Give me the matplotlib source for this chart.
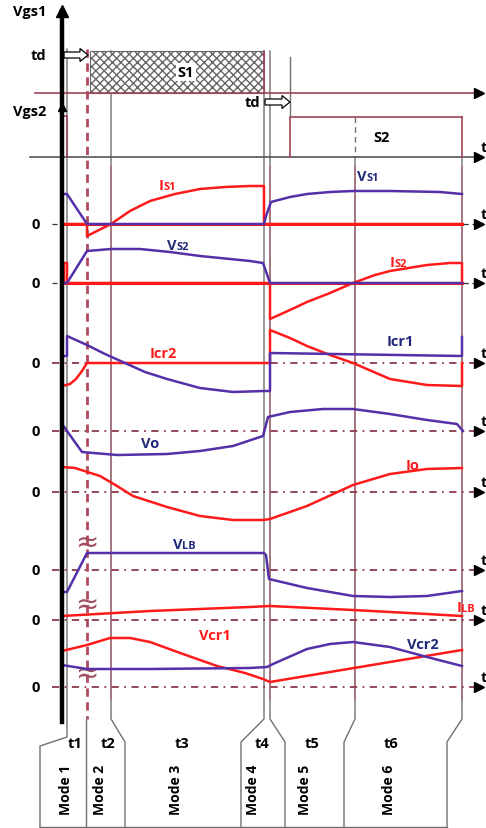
import matplotlib.pyplot as plt
from matplotlib.patches import Rectangle, FancyArrow

plt.rcParams['font.family'] = ['Open Sans', 'DejaVu Sans']

# event positions along the time axis (pixels)
t_axis = 62
t_ev = [67, 87, 111, 264, 270, 290, 355, 462]

# zero levels of each trace (pixels from top)
zeros = [225, 284, 364, 432, 493, 571, 621, 688]

# waveforms: x positions and values above their zero line (pixels)
vs1_x = [62, 67, 87, 264, 266, 271, 290, 307, 330, 353, 390, 440, 462]
vs1_v = [30, 30, 0, 0, 8, 22, 27, 30, 32, 33, 33, 32, 30]
is1_x = [62, 87, 87, 111, 130, 150, 175, 200, 225, 250, 264, 264, 462]
is1_v = [0, 0, -12, 0, 13, 23, 30, 35, 37, 38, 38, 0, 0]

vs2_x = [62, 67, 87, 111, 140, 170, 200, 230, 250, 263, 270, 462]
vs2_v = [0, 0, 32, 34, 34, 31, 27, 24, 22, 20, 0, 0]
is2_x = [62, 64, 64, 67, 67, 270, 270, 290, 307, 330, 353, 375, 390, 427, 450, 462, 462]
is2_v = [0, 0, 20, 20, 0, 0, -36, -27, -19, -10, 0, 8, 12, 18, 20, 20, 0]

icr1_x = [62, 67, 67, 87, 105, 125, 145, 167, 200, 233, 264, 270, 270, 462, 462]
icr1_v = [7, 7, 27, 18, 9, 0, -9, -16, -25, -29, -28, -28, 10, 7, 26]
icr2_x = [62, 70, 76, 82, 87, 270, 270, 290, 307, 330, 353, 390, 427, 462, 462]
icr2_v = [-23, -21, -16, -8, 0, 0, 33, 25, 17, 8, 0, -16, -22, -23, 0]

vo_x = [62, 82, 117, 167, 200, 233, 263, 268, 290, 323, 353, 390, 427, 457, 463]
vo_v = [7, -21, -24, -23, -20, -15, -5, 14, 19, 22, 22, 17, 11, 7, 0]
io_x = [62, 75, 100, 117, 133, 167, 200, 233, 263, 270, 307, 353, 390, 427, 462]
io_v = [25, 24, 16, 6, -4, -15, -24, -28, -28, -27, -14, 7, 18, 23, 24]

vlb_x = [62, 67, 87, 264, 266, 269, 307, 353, 390, 427, 462]
vlb_v = [-22, -22, 17, 17, 15, -9, -18, -26, -27, -26, -21]
ilb_x = [62, 150, 250, 270, 353, 427, 462]
ilb_v = [4, 9, 13, 14, 10, 6, 4]

vcr1_x = [62, 87, 110, 130, 150, 183, 217, 245, 263, 270, 462]
vcr1_v = [36, 42, 49, 49, 45, 33, 21, 14, 8, 5, 37]
vcr2_x = [62, 87, 150, 250, 267, 273, 307, 330, 353, 390, 427, 462]
vcr2_v = [22, 18, 18, 19, 20, 23, 38, 43, 45, 40, 30, 21]

mode_labels = ['Mode 1', 'Mode 2', 'Mode 3', 'Mode 4', 'Mode 5', 'Mode 6']
mode_x = [66, 100, 176, 253, 305, 389]
t_labels = ['t1', 't2', 't3', 't4', 't5', 't6']
t_label_x = [75, 108, 182, 262, 312, 391]

RED = '#ff1a1a'
BLUE = '#5530a8'
NAVY = '#1f2a7a'
DRED = '#a04455'
GRAY = '#707070'
FS = 10.5

fig = plt.figure(figsize=(4.86, 8.29), dpi=100)
ax = fig.add_axes([0, 0, 1, 1])
ax.set_xlim(0, 486)
ax.set_ylim(829, 0)
ax.axis('off')


def trace(xs, vs, zero, color):
    ax.plot(xs, [zero - v for v in vs], color=color, lw=1.8, solid_joinstyle='round', zorder=5)


def lab(x, y, main, sub, color, size=FS):
    ax.text(x, y, main, color=color, fontsize=size, fontweight='bold', ha='right', va='baseline')
    ax.text(x, y, sub, color=color, fontsize=size * 0.75, fontweight='bold', ha='left', va='baseline')


def txt(x, y, s, color='black', size=FS, **kw):
    ax.text(x, y, s, color=color, fontsize=size, fontweight='bold', ha='center', va='center', **kw)


def arrow_t(y):
    ax.plot([479], [y], marker='>', color='black', ms=7, zorder=6)
    ax.text(481, y - 3, 't', fontsize=FS, fontweight='bold', ha='left', va='bottom')


# ---- gate signal section ----
ax.plot([t_axis, t_axis], [723, 12], color='black', lw=3.2, zorder=7)
ax.plot([t_axis], [12], marker='^', color='black', ms=9, zorder=7)
ax.plot([t_axis], [108], marker='^', color='black', ms=6, zorder=7)
txt(30, 12, 'Vgs1')
txt(30, 112, 'Vgs2')

ax.add_patch(Rectangle((90, 52), 264 - 90, 94 - 52, facecolor='white', edgecolor='#666666',
                       hatch='xxxx', lw=0.8, zorder=2))
ax.plot([264, 264], [52, 94], color=DRED, lw=1.2, zorder=3)
txt(186, 73, 'S1', bbox=dict(facecolor='white', edgecolor='none', pad=1.5), zorder=4)

ax.plot([35, 476], [94, 94], color=DRED, lw=1.2, zorder=3)
ax.plot([479], [94], marker='>', color='black', ms=7, zorder=6)
ax.plot([30, 476], [158, 158], color='#555555', lw=1.2, zorder=3)
arrow_t(158)

ax.plot([290, 290, 462], [158, 118, 118], color=DRED, lw=1.2, zorder=3)
ax.plot([462, 462], [118, 158], color=DRED, lw=1.2, zorder=3)
ax.plot([355, 355], [118, 158], color=GRAY, lw=1.0, ls=(0, (4, 3)), zorder=3)
txt(382, 138, 'S2')
ax.plot([62, 67, 67], [117, 117, 158], color=DRED, lw=1.2, zorder=3)

ax.add_patch(FancyArrow(64, 56, 16, 0, width=6, head_width=13, head_length=8,
                        facecolor='white', edgecolor='black', lw=0.9, zorder=6))
txt(38, 56, 'td')
ax.add_patch(FancyArrow(265, 103, 17, 0, width=6, head_width=13, head_length=8,
                        facecolor='white', edgecolor='black', lw=0.9, zorder=6))
txt(252, 103, 'td')

# ---- vertical time markers ----
ax.plot([67, 67, 40, 40], [50, 738, 747, 829], color=GRAY, lw=1.0, zorder=1)
ax.plot([87, 87], [50, 720], color='#b04a5c', lw=2.0, ls=(0, (3, 2)), zorder=1)
ax.plot([86, 86], [720, 829], color=GRAY, lw=1.0, zorder=1)
ax.plot([111, 111, 125, 125], [52, 720, 743, 829], color=GRAY, lw=1.0, zorder=1)
ax.plot([264, 264, 241, 241], [94, 720, 743, 829], color=GRAY, lw=1.0, zorder=1)
ax.plot([270, 270, 285, 285], [52, 720, 743, 829], color=GRAY, lw=1.0, zorder=1)
ax.plot([290, 290], [58, 118], color=GRAY, lw=1.0, zorder=1)
ax.plot([355, 355, 344, 344], [158, 720, 743, 829], color=GRAY, lw=1.0, zorder=1)
ax.plot([462, 462, 447, 447], [158, 720, 743, 829], color=GRAY, lw=1.0, zorder=1)
for xv in [111, 270, 355, 462]:
    ax.plot([xv, xv], [168, 700], color='#b06070', lw=1.2, alpha=0.7, zorder=1)
ax.plot([40, 447], [828, 828], color=GRAY, lw=1.0, zorder=1)

for lbl, xx in zip(t_labels, t_label_x):
    txt(xx, 744, lbl)
for lbl, xx in zip(mode_labels, mode_x):
    txt(xx, 790, lbl, size=10, rotation=90)

# ---- zero lines ----
for i, z in enumerate(zeros):
    if i < 2:
        ax.plot([62, 462], [z, z], color=RED, lw=2.2, zorder=2)
        ax.plot([52, 476], [z, z], color='#333333', lw=0.9, ls=(0, (4, 3)), zorder=3)
    else:
        ax.plot([52, 476], [z, z], color='#8b3a4a', lw=1.3, ls=(0, (4, 3, 1, 3)), zorder=2)
    txt(36, z, '0')
    arrow_t(z)

for yy in [543, 605, 674]:
    ax.text(87, yy, '≈', fontsize=20, color='#a05060', ha='center', va='center', zorder=4,
            family='DejaVu Sans')

# ---- waveforms ----
trace(is1_x, is1_v, zeros[0], RED)
trace(vs1_x, vs1_v, zeros[0], BLUE)
trace(is2_x, is2_v, zeros[1], RED)
trace(vs2_x, vs2_v, zeros[1], BLUE)
trace(icr2_x, icr2_v, zeros[2], RED)
trace(icr1_x, icr1_v, zeros[2], BLUE)
trace(vo_x, vo_v, zeros[3], BLUE)
trace(io_x, io_v, zeros[4], RED)
trace(vlb_x, vlb_v, zeros[5], BLUE)
trace(ilb_x, ilb_v, zeros[6], RED)
trace(vcr1_x, vcr1_v, zeros[7], RED)
trace(vcr2_x, vcr2_v, zeros[7], BLUE)

lab(163, 190, 'I', 'S1', RED)
lab(366, 181, 'V', 'S1', NAVY)
lab(176, 250, 'V', 'S2', NAVY)
lab(394, 267, 'I', 'S2', RED)
txt(163, 354, 'Icr2', color=RED)
txt(400, 342, 'Icr1', color=NAVY)
txt(150, 444, 'Vo', color=NAVY)
txt(413, 466, 'Io', color=RED)
lab(182, 549, 'V', 'LB', NAVY)
lab(461, 612, 'I', 'LB', RED)
txt(215, 636, 'Vcr1', color=RED)
txt(423, 645, 'Vcr2', color=NAVY)

plt.savefig('out.png', dpi=100, facecolor='white')
